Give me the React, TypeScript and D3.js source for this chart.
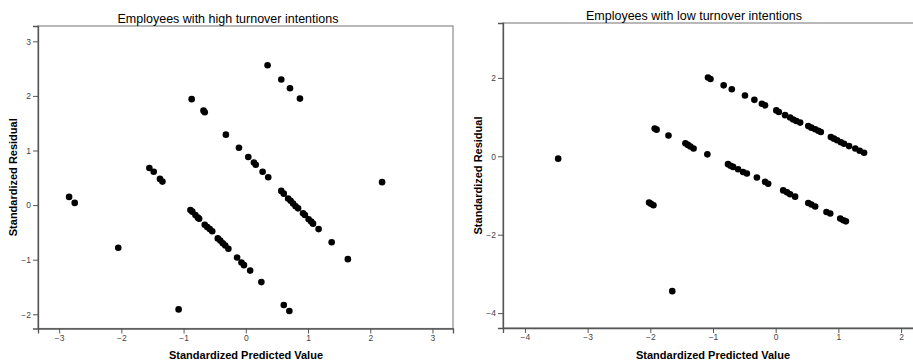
import React, { useEffect, useRef } from "react";
import * as d3 from "d3";

// Employees with high turnover intentions
const highPredicted = [
  -2.84, -2.75, -2.05, -1.55, -1.48, -1.38, -1.34, -1.08, -0.87, -0.68, -0.66, -0.32, -0.11, 0.04, 0.13, 0.16,
  0.27, 0.36, 0.35, 0.57, 0.71, 0.87, 0.57, 0.61, 0.68, 0.72, 0.76, 0.8, 0.84, 0.92, 0.95, 1.01, 1.05, 1.08,
  1.17, 1.38, 1.64, 2.19, -0.89, -0.86, -0.81, -0.77, -0.75, -0.66, -0.62, -0.58, -0.54, -0.45, -0.41, -0.37,
  -0.33, -0.28, -0.14, -0.07, -0.03, 0.07, 0.25, 0.61, 0.7,
];
const highResidual = [
  0.15, 0.04, -0.78, 0.68, 0.61, 0.48, 0.43, -1.91, 1.94, 1.73, 1.7, 1.29, 1.05, 0.88, 0.78, 0.74,
  0.61, 0.51, 2.56, 2.3, 2.14, 1.95, 0.26, 0.21, 0.12, 0.08, 0.03, -0.02, -0.06, -0.15, -0.18, -0.26, -0.3, -0.34,
  -0.44, -0.68, -0.99, 0.42, -0.09, -0.12, -0.18, -0.23, -0.25, -0.36, -0.4, -0.44, -0.48, -0.61, -0.65, -0.7,
  -0.74, -0.8, -0.96, -1.05, -1.1, -1.2, -1.41, -1.83, -1.94,
];

// Employees with low turnover intentions
const lowPredicted = [
  -3.47, -2.02, -1.99, -1.95, -1.65, -1.93, -1.9, -1.71, -1.44, -1.4, -1.36, -1.31, -1.09, -1.08, -1.04, -0.83,
  -0.7, -0.49, -0.34, -0.22, -0.17, 0.01, 0.05, 0.15, 0.23, 0.28, 0.33, 0.39, 0.52, 0.57, 0.63, 0.68, 0.72,
  0.88, 0.93, 0.98, 1.04, 1.09, 1.17, 1.27, 1.34, 1.41, -0.76, -0.72, -0.68, -0.6, -0.52, -0.46, -0.3, -0.17,
  -0.12, 0.12, 0.18, 0.23, 0.31, 0.52, 0.57, 0.63, 0.81, 0.87, 1.03, 1.08, 1.12,
];
const lowResidual = [
  -0.06, -1.18, -1.21, -1.25, -3.44, 0.71, 0.68, 0.53, 0.33, 0.29, 0.25, 0.2, 0.05, 2.01, 1.97, 1.81,
  1.71, 1.55, 1.44, 1.34, 1.3, 1.17, 1.13, 1.05, 0.99, 0.94, 0.9, 0.86, 0.77, 0.73, 0.69, 0.65, 0.62,
  0.49, 0.45, 0.41, 0.36, 0.32, 0.26, 0.2, 0.14, 0.09, -0.2, -0.24, -0.27, -0.33, -0.4, -0.44, -0.54, -0.65,
  -0.7, -0.87, -0.92, -0.97, -1.03, -1.19, -1.23, -1.28, -1.42, -1.46, -1.59, -1.63, -1.66,
];

const highXTicks = [-3, -2, -1, 0, 1, 2, 3];
const highYTicks = [-2, -1, 0, 1, 2, 3];
const lowXTicks = [-4, -3, -2, -1, 0, 1, 2];
const lowYTicks = [-4, -2, 0, 2];

const FONT = "'Liberation Sans', Arial, sans-serif";

const App = () => {
  const svgRef = useRef<SVGSVGElement>(null);

  useEffect(() => {
    const svg = d3.select(svgRef.current);
    svg.selectAll("*").remove();

    const panels = [
      {
        title: "Employees with high turnover intentions",
        xs: highPredicted,
        ys: highResidual,
        xDomain: [-3.34, 3.33],
        xRange: [38, 453],
        yDomain: [-2.26, 3.28],
        yRange: [328.5, 26],
        xTicks: highXTicks,
        yTicks: highYTicks,
        titleX: 228,
        xTitleX: 246,
        yTitleX: 17,
      },
      {
        title: "Employees with low turnover intentions",
        xs: lowPredicted,
        ys: lowResidual,
        xDomain: [-4.35, 2.35],
        xRange: [503, 923],
        yDomain: [-4.38, 3.4],
        yRange: [328, 23],
        xTicks: lowXTicks,
        yTicks: lowYTicks,
        titleX: 694,
        xTitleX: 713,
        yTitleX: 482,
      },
    ];

    panels.forEach((p) => {
      const x = d3.scaleLinear().domain(p.xDomain).range(p.xRange);
      const y = d3.scaleLinear().domain(p.yDomain).range(p.yRange);
      const [x0, x1] = p.xRange;
      const [y1, y0] = p.yRange;
      const g = svg.append("g");

      // frame
      g.append("rect")
        .attr("x", x0)
        .attr("y", y0)
        .attr("width", x1 - x0)
        .attr("height", y1 - y0)
        .attr("fill", "none")
        .attr("stroke", "#8a8a8a")
        .attr("stroke-width", 1.2);

      // axes
      const xAxis = g
        .append("g")
        .attr("transform", `translate(0,${y1})`)
        .call(d3.axisBottom(x).tickValues(p.xTicks).tickSize(5).tickPadding(1).tickFormat(d3.format("d")));
      const yAxis = g
        .append("g")
        .attr("transform", `translate(${x0},0)`)
        .call(d3.axisLeft(y).tickValues(p.yTicks).tickSize(5).tickPadding(2).tickFormat(d3.format("d")));
      [xAxis, yAxis].forEach((a) => {
        a.select(".domain").attr("stroke", "#555").attr("stroke-width", 1.3);
        a.selectAll(".tick line").attr("stroke", "#555");
        a.selectAll(".tick text").attr("fill", "#444").style("font-family", FONT).style("font-size", "8.5px");
      });

      // points
      g.append("g")
        .selectAll("circle")
        .data(p.xs.map((v, i) => [v, p.ys[i]]))
        .enter()
        .append("circle")
        .attr("cx", (d) => x(d[0]))
        .attr("cy", (d) => y(d[1]))
        .attr("r", 3.3)
        .attr("fill", "#000");

      // titles
      g.append("text")
        .attr("x", p.titleX)
        .attr("y", y0 - 3.5)
        .attr("text-anchor", "middle")
        .style("font-family", FONT)
        .style("font-size", "12.5px")
        .text(p.title);
      g.append("text")
        .attr("x", p.xTitleX)
        .attr("y", 359)
        .attr("text-anchor", "middle")
        .style("font-family", FONT)
        .style("font-size", "11px")
        .style("font-weight", "bold")
        .text("Standardized Predicted Value");
      g.append("text")
        .attr("transform", `translate(${p.yTitleX},${(y0 + y1) / 2}) rotate(-90)`)
        .attr("text-anchor", "middle")
        .style("font-family", FONT)
        .style("font-size", "11px")
        .style("font-weight", "bold")
        .text("Standardized Residual");
    });
  }, []);

  return (
    <div style={{ position: "absolute", left: 0, top: 0, width: 913, height: 362, background: "#fff" }}>
      <svg ref={svgRef} width={913} height={362} style={{ display: "block" }}></svg>
    </div>
  );
};

export default App;
